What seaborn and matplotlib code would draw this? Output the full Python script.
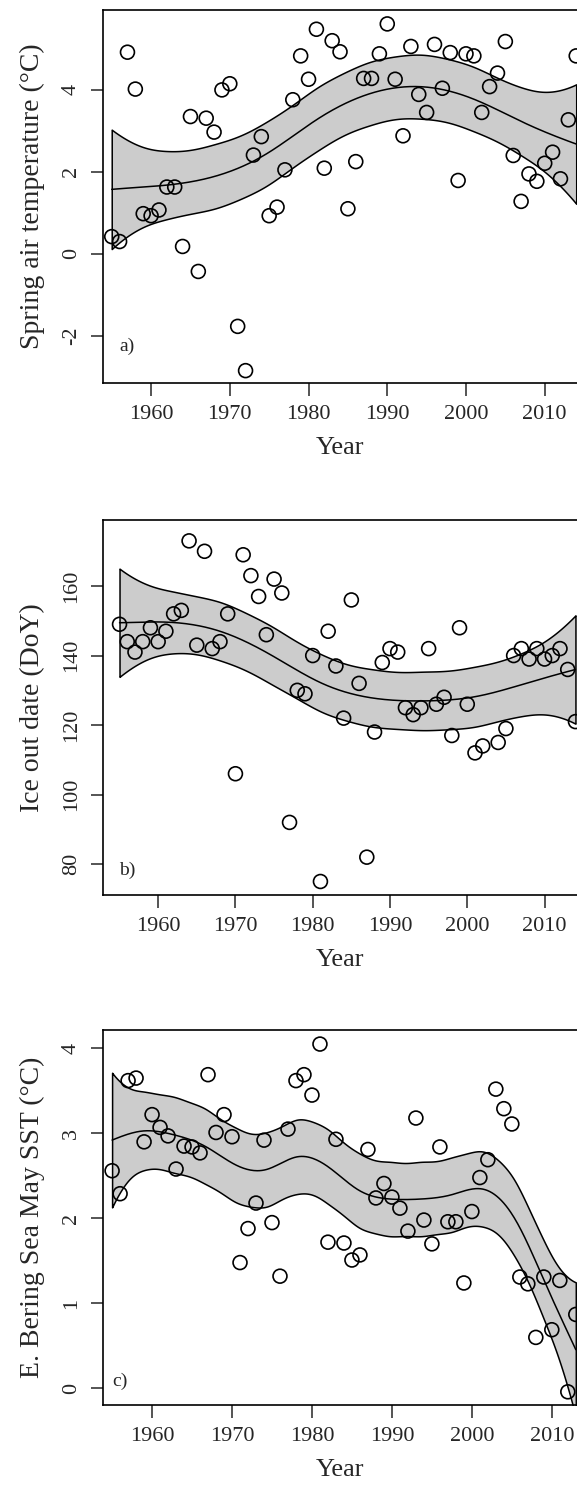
import numpy as np
import pandas as pd
import seaborn as sns
import matplotlib.pyplot as plt

# a) spring air temperature
years_a = np.arange(1955, 2015)
temp_a = [0.42, 0.30, 4.92, 4.02, 0.98, 0.93, 1.07, 1.63, 1.63, 0.18,
          3.35, -0.43, 3.31, 2.97, 4.00, 4.15, -1.77, -2.85, 2.41, 2.86,
          0.93, 1.14, 2.05, 3.76, 4.83, 4.26, 5.48, 2.09, 5.20, 4.93,
          1.10, 2.25, 4.28, 4.28, 4.88, 5.61, 4.26, 2.88, 5.06, 3.89,
          3.45, 5.11, 4.04, 4.91, 1.79, 4.88, 4.83, 3.45, 4.08, 4.41,
          5.18, 2.40, 1.28, 1.95, 1.77, 2.21, 2.48, 1.83, 3.27, 4.83]

# b) ice out date (2003 missing)
years_b = np.arange(1955, 2015)
ice_b = [149, 144, 141, 144, 148, 144, 147, 152, 153, 173,
         143, 170, 142, 144, 152, 106, 169, 163, 157, 146,
         162, 158, 92, 130, 129, 140, 75, 147, 137, 122,
         156, 132, 82, 118, 138, 142, 141, 125, 123, 125,
         142, 126, 128, 117, 148, 126, 112, 114, np.nan, 115,
         119, 140, 142, 139, 142, 139, 140, 142, 136, 121]

# c) E. Bering Sea May SST
years_c = np.arange(1955, 2014)
sst_c = [2.56, 2.29, 3.62, 3.65, 2.90, 3.22, 3.07, 2.97, 2.58, 2.85,
         2.84, 2.77, 3.69, 3.01, 3.22, 2.96, 1.48, 1.88, 2.18, 2.92,
         1.95, 1.32, 3.05, 3.62, 3.69, 3.45, 4.05, 1.72, 2.93, 1.71,
         1.51, 1.57, 2.81, 2.24, 2.41, 2.25, 2.12, 1.85, 3.18, 1.98,
         1.70, 2.84, 1.96, 1.96, 1.24, 2.08, 2.48, 2.69, 3.52, 3.29,
         3.11, 1.31, 1.23, 0.60, 1.31, 0.69, 1.27, -0.04, 0.87]

year_ticks = [1960, 1970, 1980, 1990, 2000, 2010]


def knots_for(n_knots):
    return np.linspace(0, 1, n_knots + 2)[1:-1]


def spline_design(u, knots):
    cols = [np.ones_like(u), u, u ** 2, u ** 3]
    cols += [np.clip(u - k, 0, None) ** 3 for k in knots]
    return np.column_stack(cols)


def spline_d2(u, knots):
    cols = [np.zeros_like(u), np.zeros_like(u), 2 * np.ones_like(u), 6 * u]
    cols += [6 * np.clip(u - k, 0, None) for k in knots]
    return np.column_stack(cols)


def smooth_fit(x, y, grid, n_knots, target_edf):
    # penalised cubic regression spline (wiggliness penalty), GAM-like
    lo, hi = x.min(), x.max()
    u = (x - lo) / (hi - lo)
    knots = knots_for(n_knots)
    X = spline_design(u, knots)
    uu = np.linspace(0, 1, 2001)
    D = spline_d2(uu, knots)
    S = D.T @ D / len(uu)
    XtX = X.T @ X

    def solve(lam):
        A = np.linalg.inv(XtX + lam * S)
        return A, np.trace(A @ XtX)

    a, b = -10.0, 4.0
    for _ in range(80):
        mid = 0.5 * (a + b)
        if solve(10 ** mid)[1] > target_edf:
            a = mid
        else:
            b = mid
    A, edf = solve(10 ** (0.5 * (a + b)))
    beta = A @ X.T @ y
    resid = y - X @ beta
    sigma2 = resid @ resid / (len(y) - edf)
    G = spline_design((grid - lo) / (hi - lo), knots)
    fit = G @ beta
    se = np.sqrt(np.einsum("ij,jk,ik->i", G, A, G) * sigma2)
    return fit, fit - 2 * se, fit + 2 * se


def draw_panel(ax, years, values, n_knots, edf, ylabel, yticks, ylim, xlim, tag, tag_pos):
    df = pd.DataFrame({"Year": years, "value": values}).dropna()
    grid = np.linspace(df.Year.min(), df.Year.max(), 400)
    fit, lower, upper = smooth_fit(df.Year.values.astype(float), df.value.values,
                                   grid, n_knots, edf)
    ax.fill_between(grid, lower, upper, facecolor="#cccccc", edgecolor="black",
                    linewidth=1.1, zorder=1)
    sns.lineplot(x=grid, y=fit, color="black", linewidth=1.1, ax=ax, zorder=2)
    sns.scatterplot(data=df, x="Year", y="value", marker="o", s=100,
                    facecolors="none", edgecolor="black", linewidth=1.2,
                    ax=ax, zorder=3)
    ax.set_xlim(*xlim)
    ax.set_ylim(*ylim)
    ax.set_xticks(year_ticks)
    ax.set_yticks(yticks)
    ax.set_xlabel("Year", fontsize=19, labelpad=9)
    ax.set_ylabel(ylabel, fontsize=20, labelpad=12)
    ax.tick_params(direction="out", length=9, width=1.1, labelsize=16, pad=7)
    ax.tick_params(axis="y", labelrotation=90)
    for lab in ax.get_yticklabels():
        lab.set_verticalalignment("center")
    ax.spines["right"].set_visible(False)
    for side in ["top", "left", "bottom"]:
        ax.spines[side].set_linewidth(1.2)
        ax.spines[side].set_color("black")
    ax.text(tag_pos[0], tag_pos[1], tag, transform=ax.transAxes,
            fontsize=14, ha="center", va="center")


sns.set_theme(style="ticks")
plt.rcParams["font.family"] = ["Liberation Serif", "DejaVu Serif"]
plt.rcParams["axes.unicode_minus"] = False

fig = plt.figure(figsize=(5.77, 14.90), dpi=100)
left = 103.3 / 577
width = 1 - left
ax_a = fig.add_axes([left, 0.7430, width, 0.2503])
ax_b = fig.add_axes([left, 0.3993, width, 0.2517])
ax_c = fig.add_axes([left, 0.0570, width, 0.2517])

draw_panel(ax_a, years_a, temp_a, 8, 4.3, "Spring air temperature (\u00b0C)",
           [-2, 0, 2, 4], (-3.15, 5.95), (1953.93, 2014.1), "a)", (0.05, 0.097))
draw_panel(ax_b, years_b, ice_b, 8, 4.3, "Ice out date (DoY)",
           [80, 100, 120, 140, 160], (71.1, 179.0), (1952.9, 2014.2), "b)", (0.05, 0.067))
draw_panel(ax_c, years_c, sst_c, 14, 7.0, "E. Bering Sea May SST (\u00b0C)",
           [0, 1, 2, 3, 4], (-0.196, 4.215), (1953.9, 2013.15), "c)", (0.035, 0.064))

fig.savefig("out.png", dpi=100)
